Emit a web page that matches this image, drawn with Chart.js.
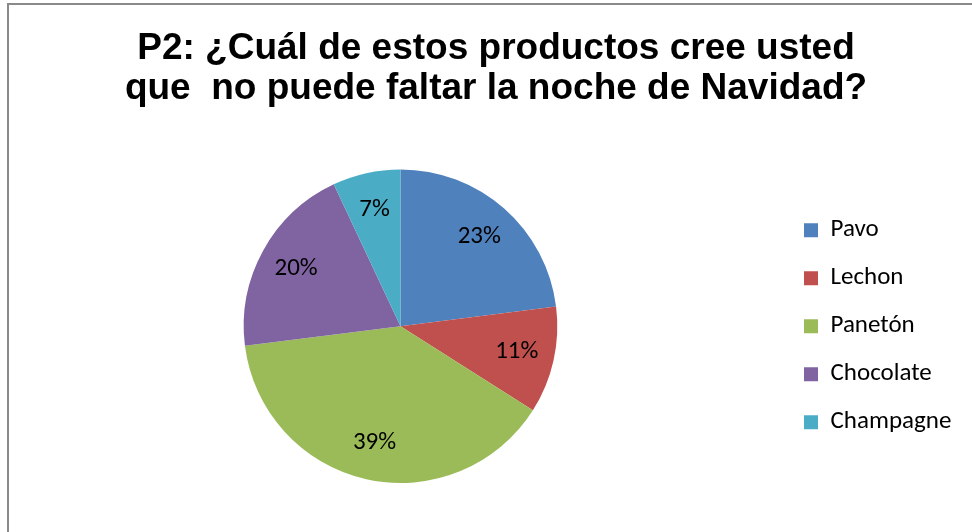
<!DOCTYPE html>
<html>
<head>
<meta charset="utf-8">
<script src="https://cdn.jsdelivr.net/npm/chart.js@4"></script>
<style>
  html, body { margin: 0; padding: 0; background: #fff; }
  #wrap { position: relative; width: 972px; height: 532px; overflow: hidden; }
  #frame { position: absolute; left: 7px; top: 3px; width: 1000px; height: 600px;
           border-top: 2px solid #8a8a8a; border-left: 2px solid #8a8a8a; }
  canvas { position: absolute; left: 0; top: 0; }
</style>
</head>
<body>
<div id="wrap">
  <div id="frame"></div>
  <canvas id="graph" width="972" height="532"></canvas>
</div>
<script>
const productos = ["Pavo", "Lechon", "Panetón", "Chocolate", "Champagne"];
const porcentajes = [23, 11, 39, 20, 7];
const colores = ["#4F81BD", "#C0504D", "#9BBB59", "#8064A2", "#4BACC6"];
const titulo = [
    "P2: ¿Cuál de estos productos cree usted",
    "que  no puede faltar la noche de Navidad?"
];

const fuenteTexto = "Calibri, Carlito, Lato, sans-serif";

// ancho fijo para la leyenda de la derecha
const anchoLeyenda = {
    id: "anchoLeyenda",
    beforeInit(chart) {
        const fitOriginal = chart.legend.fit;
        chart.legend.fit = function () {
            fitOriginal.call(this);
            this.width = 191;
        };
    }
};

// porcentajes dentro de cada porcion
const etiquetas = {
    id: "etiquetas",
    afterDatasetsDraw(chart) {
        const ctx = chart.ctx;
        const meta = chart.getDatasetMeta(0);
        ctx.save();
        ctx.font = "25px " + fuenteTexto;
        ctx.fillStyle = "#000";
        ctx.textAlign = "center";
        ctx.textBaseline = "middle";
        meta.data.forEach((arc, i) => {
            const p = arc.getProps(["x", "y", "startAngle", "endAngle", "outerRadius"], true);
            const mid = (p.startAngle + p.endAngle) / 2;
            const r = p.outerRadius * 0.76;
            ctx.fillText(porcentajes[i] + "%", p.x + Math.cos(mid) * r, p.y + Math.sin(mid) * r);
        });
        ctx.restore();
    }
};

const graph = document.getElementById("graph").getContext("2d");

let myChart = new Chart(graph, {
    type: "pie",
    data: {
        labels: productos,
        datasets: [{
            data: porcentajes,
            backgroundColor: colores,
            borderWidth: 0
        }]
    },
    options: {
        responsive: false,
        animation: false,
        layout: {
            padding: { left: 20, right: 0, top: 0, bottom: 49 }
        },
        plugins: {
            title: {
                display: true,
                text: titulo,
                color: "#000",
                font: { family: "'Liberation Sans', Arial, sans-serif", size: 37, weight: "bold", lineHeight: 1.1 },
                padding: { top: 28, bottom: 60 }
            },
            legend: {
                position: "right",
                fullSize: false,
                labels: {
                    boxWidth: 14,
                    boxHeight: 14,
                    padding: 23,
                    color: "#000",
                    font: { family: fuenteTexto, size: 25 }
                }
            },
            tooltip: { enabled: false }
        }
    },
    plugins: [anchoLeyenda, etiquetas]
});
</script>
</body>
</html>
